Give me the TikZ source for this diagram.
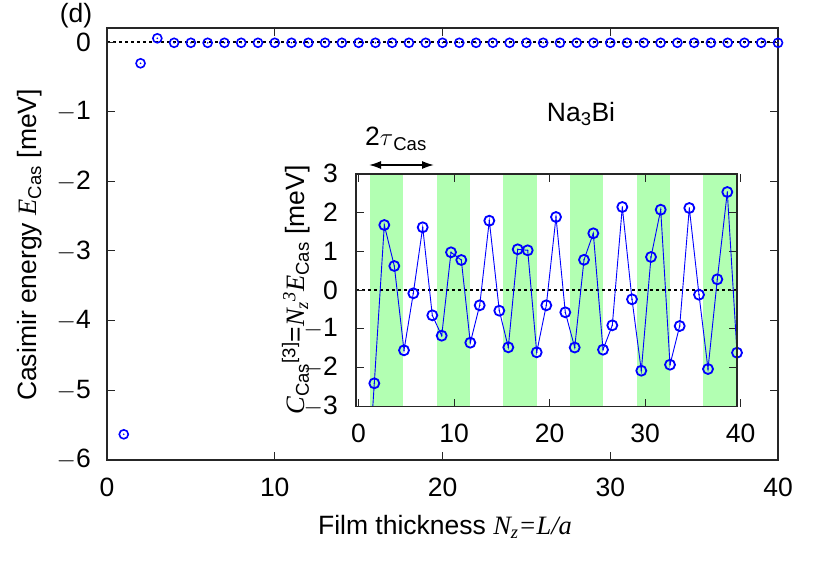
\documentclass[tikz,border=0pt]{standalone}
\usepackage{fontspec}
\setmainfont{Liberation Sans}
\newfontfamily\tms{Liberation Serif}
\usetikzlibrary{arrows.meta}
\tikzset{
  mk/.style={draw=blue, line width=1.6pt, fill=none},
  tl/.style={font=\fontsize{26.5}{30}\selectfont, inner sep=0pt},
  fr/.style={line width=1.2pt, draw=black!85},
}
\newcommand{\iv}[1]{{\tms\itshape #1}}
\begin{document}
\begin{tikzpicture}[x=1pt,y=-1pt]
\useasboundingbox (0,0) rectangle (830,581);
% ---------- main plot ----------
\def\mx#1{107+16.775*#1}
\def\my#1{42-69.6*#1}
\draw[black, dashed, line width=1.2pt] (107,42) -- (778,42);
\foreach \v in {0,-1,-2,-3,-4,-5,-6}{
  \draw[fr,line width=0.8pt] (107,{\my{\v}}) -- ++(8,0);
  \draw[fr,line width=0.8pt] (778,{\my{\v}}) -- ++(-8,0);
}
\foreach \v/\t in {0/0,-1/$-$1,-2/$-$2,-3/$-$3,-4/$-$4,-5/$-$5,-6/$-$6}
  \node[tl, anchor=east] (yl\v) at (91,{\my{\v}}) {\t};
\foreach \v in {0,10,20,30,40}{
  \draw[fr,line width=0.8pt] ({\mx{\v}},460) -- ++(0,-8);
  \draw[fr,line width=0.8pt] ({\mx{\v}},28) -- ++(0,8);
  \node[tl, anchor=north] (xl\v) at ({\mx{\v}},478) {\v};
}
\draw[fr] (107,28) rectangle (778,460);
\node[mk,circle,minimum size=9pt,inner sep=0pt] (p1) at ({\mx{1}},434.3) {};
\node[mk,circle,minimum size=9pt,inner sep=0pt] (p2) at ({\mx{2}},63.3) {};
\node[mk,circle,minimum size=9pt,inner sep=0pt] (p3) at ({\mx{3}},38.3) {};
\foreach \n in {4,...,40}
  \node[mk,circle,minimum size=9pt,inner sep=0pt] (p\n) at ({\mx{\n}},42.8) {};
\foreach \n in {1,...,40}
  \fill[blue] (p\n) circle (0.9pt);
\node[tl] (tag) at (76,16) {(d)};
\node[tl, rotate=90] (ylab) at (30,245) {Casimir energy \iv{E}\textsubscript{Cas} [meV]};
\node[tl] (xlab) at (445,527) {Film thickness \iv{N\textsubscript{z}=L/a}};
% ---------- inset ----------
\fill[white] (356,174) rectangle (737,406.7);
\foreach \s in {370,436.7,503.3,570,636.7,703.3}
  \fill[green!30] (\s,174) rectangle ++(33.4,232.7);
\draw[black, dashed, line width=1.2pt] (356,290) -- (737,290);
\foreach \v in {-3,...,3}{
  \draw[fr,line width=0.8pt] (356,{290-38.8*\v}) -- ++(8,0);
  \draw[fr,line width=0.8pt] (737,{290-38.8*\v}) -- ++(-8,0);
}
\foreach \v/\t in {3/3,2/2,1/1,0/0,-1/$-$1,-2/$-$2,-3/$-$3}
  \node[tl, anchor=east] (il\v) at (338,{290-38.8*\v}) {\t};
\foreach \v in {0,10,20,30,40}{
  \draw[fr,line width=0.8pt] ({358.5+9.55*\v},406.7) -- ++(0,-8);
  \draw[fr,line width=0.8pt] ({358.5+9.55*\v},174) -- ++(0,8);
  \node[tl, anchor=north] (ix\v) at ({358.5+9.55*\v},424) {\v};
}
\coordinate (q0) at (372.8,406.7);
\foreach \i/\x/\y in {1/374.3/383.3,2/384.3/225,3/394.3/266,4/404/350.3,5/413.3/293.3,
 6/422.7/227.3,7/432.3/315.3,8/441.7/335.7,9/451/252.3,10/461.3/260,11/470.3/342.7,
 12/479.7/305.3,13/489.3/220.7,14/499.3/310.7,15/508.3/347.3,16/517.7/249.3,
 17/527.7/250.3,18/536.7/352.3,19/546.3/305.3,20/556/217,21/565.3/312.3,
 22/574.7/347.5,23/584/259.8,24/593.3/233.3,25/603/349.7,26/612.3/325.3,
 27/622.3/207,28/632/299.3,29/641.3/370.7,30/651/257,31/660.7/209.7,32/670/364.7,
 33/679.7/326,34/689.3/208,35/699/294.7,36/708/369,37/717.3/279.3,38/727.3/192,
 39/737/352.7}
  \coordinate (q\i) at (\x,\y);
\draw[blue, line width=0.9pt] (q0) \foreach \i in {1,...,39}{ -- (q\i)};
\foreach \i in {1,...,39}{
  \node[mk,circle,minimum size=10pt,inner sep=0pt,line width=1.8pt] (c\i) at (q\i) {};
  \fill[blue] (q\i) circle (0.8pt);
}
\draw[fr] (356,174) rectangle (737,406.7);
\node[tl, rotate=90] (iylab) at (296,290) {\iv{C}\textsubscript{Cas}\textsuperscript{[3]}=\iv{N\textsubscript{z}\textsuperscript{3}E}\textsubscript{Cas} [meV]};
\node[tl] (na) at (581,114) {Na\textsubscript{3}Bi};
\node[tl] (tau) at (396,139) {2$\tau$\textsubscript{Cas}};
\coordinate (a1) at (369,165);
\coordinate (a2) at (434,165);
\draw[{Latex[length=12pt,width=8pt]}-{Latex[length=12pt,width=8pt]}, line width=1.6pt] (a1) -- (a2);
\end{tikzpicture}
\end{document}
